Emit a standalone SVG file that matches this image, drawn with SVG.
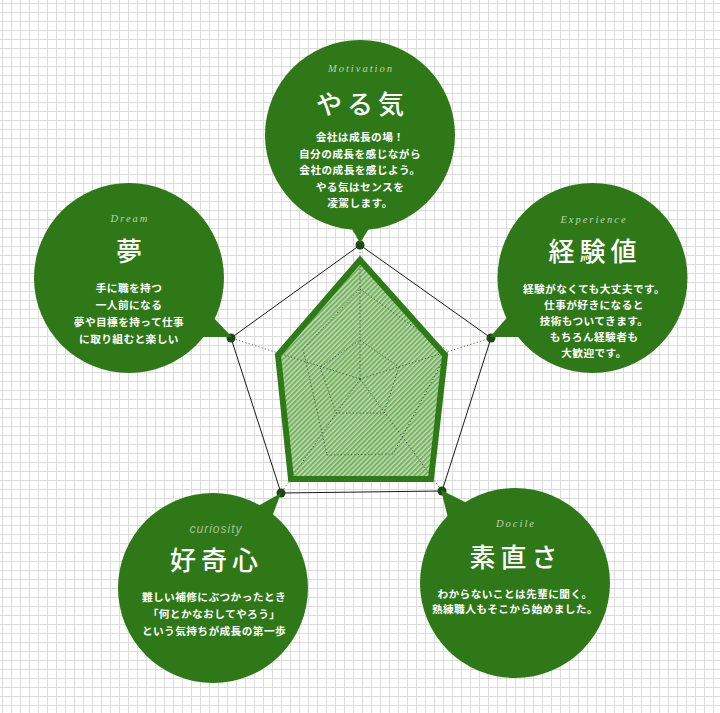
<svg xmlns="http://www.w3.org/2000/svg" width="720" height="713" viewBox="0 0 720 713">
<style>
.bubble{fill:#2e7817}
.en{font-family:"Liberation Serif",serif;font-style:italic;font-size:10.5px;letter-spacing:2px;fill:#bcd5b2;text-anchor:middle}
.en2{font-family:"Liberation Sans",Arial,sans-serif;font-style:italic;font-size:12px;letter-spacing:1px;fill:#a3c497;text-anchor:middle}
.hd{font-family:"Noto Sans CJK JP","Noto Sans",sans-serif;font-weight:500;font-size:26px;letter-spacing:5px;fill:#fff;text-anchor:middle}
.bd{font-family:"Noto Sans CJK JP","Noto Sans",sans-serif;font-weight:bold;font-size:10.7px;letter-spacing:0.4px;fill:#fff;text-anchor:middle}
.dot{fill:#1d4a12}
.dotted{fill:none;stroke:#34502b;stroke-width:1;stroke-dasharray:1.2 2.2;opacity:0.85}
</style>
<defs>
<pattern id="grid" patternUnits="userSpaceOnUse" width="9" height="9">
<rect width="9" height="9" fill="#fff"/>
<path d="M2.5 0V9M0 3.5H9" stroke="#dcdcdc" stroke-width="1"/>
</pattern>
<pattern id="hatch" patternUnits="userSpaceOnUse" width="3.5" height="3.5" patternTransform="rotate(45)">
<rect width="3.5" height="3.5" fill="#78b064"/>
<line x1="1" y1="0" x2="1" y2="3.5" stroke="#bddeb1" stroke-width="1.5"/>
</pattern>
</defs>
<rect width="720" height="713" fill="url(#grid)"/>

<g id="connectors">
<polygon id="data-fill" points="360,260 445,355 431,479 291,479 278,355" fill="url(#hatch)"/>
<polygon class="dotted" points="360,289 448,351 393,454 327,455 303,349"/>
<polygon class="dotted" points="360,340 399,367 384,413 336,413 320,367"/>
<path class="dotted" d="M360,379L360,245M360,379L491,338M360,379L442,491M360,379L281,493M360,379L231,338"/>
<polygon id="data-stroke" points="360,260 445,355 431,479 291,479 278,355" fill="none" stroke="#2e7a17" stroke-width="6" stroke-linejoin="miter"/>
<polygon id="frame" points="360,245 491,338 442,491 281,493 231,338" fill="none" stroke="#1a1a1a" stroke-width="1"/>
<circle class="dot" cx="360" cy="245" r="4.5"/>
<circle class="dot" cx="491" cy="338" r="4.5"/>
<circle class="dot" cx="442" cy="491" r="4.5"/>
<circle class="dot" cx="281" cy="493" r="4.5"/>
<circle class="dot" cx="231" cy="338" r="4.5"/>
</g>

<g id="motivation">
<circle class="bubble" cx="360" cy="135" r="95"/>
<polygon class="bubble" points="348,222 373,222 360,243"/>
<text class="en" x="361" y="72">Motivation</text>
<text class="hd" x="362.5" y="114">やる気</text>
<text class="bd" x="360" y="141">会社は成長の場！</text>
<text class="bd" x="360" y="157.5">自分の成長を感じながら</text>
<text class="bd" x="360" y="174">会社の成長を感じよう。</text>
<text class="bd" x="360" y="190.5">やる気はセンスを</text>
<text class="bd" x="360" y="207">凌駕します。</text>
</g>

<g id="dream">
<circle class="bubble" cx="129" cy="278" r="95"/>
<polygon class="bubble" points="210,314 232,337 198,337"/>
<text class="en" x="130" y="222">Dream</text>
<text class="hd" x="131.5" y="261">夢</text>
<text class="bd" x="129" y="292">手に職を持つ</text>
<text class="bd" x="129" y="309">一人前になる</text>
<text class="bd" x="129" y="326">夢や目標を持って仕事</text>
<text class="bd" x="129" y="343">に取り組むと楽しい</text>
</g>

<g id="experience">
<circle class="bubble" cx="592.5" cy="278" r="95"/>
<polygon class="bubble" points="510,314 490,337 520,337"/>
<text class="en" x="594" y="223">Experience</text>
<text class="hd" x="595" y="261">経験値</text>
<text class="bd" x="594" y="293">経験がなくても大丈夫です。</text>
<text class="bd" x="594" y="309">仕事が好きになると</text>
<text class="bd" x="594" y="325">技術もついてきます。</text>
<text class="bd" x="594" y="341">もちろん経験者も</text>
<text class="bd" x="594" y="357">大歓迎です。</text>
</g>

<g id="curiosity">
<circle class="bubble" cx="213" cy="588" r="95"/>
<polygon class="bubble" points="258,506 281,493 272,517"/>
<text class="en2" x="216" y="533">curiosity</text>
<text class="hd" x="216.5" y="570">好奇心</text>
<text class="bd" x="214" y="601">難しい補修にぶつかったとき</text>
<text class="bd" x="214" y="618">「何とかなおしてやろう」</text>
<text class="bd" x="214" y="635">という気持ちが成長の第一歩</text>
</g>

<g id="docile">
<circle class="bubble" cx="515" cy="583" r="95"/>
<polygon class="bubble" points="448,518 441,490 467,503"/>
<text class="en" x="516" y="527">Docile</text>
<text class="hd" x="516" y="567">素直さ</text>
<text class="bd" x="515" y="598">わからないことは先輩に聞く。</text>
<text class="bd" x="515" y="613">熟練職人もそこから始めました。</text>
</g>
</svg>
